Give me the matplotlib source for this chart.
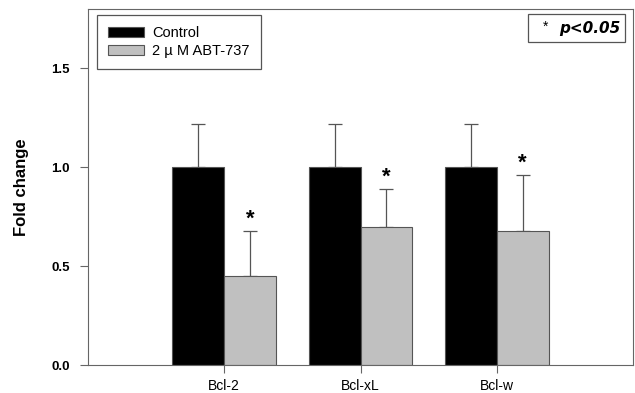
import numpy as np
import matplotlib
matplotlib.use("Agg")
import matplotlib.pyplot as plt
from matplotlib.patches import Rectangle

plt.rcParams["font.family"] = ["Liberation Sans", "DejaVu Sans"]

genes = ["Bcl-2", "Bcl-xL", "Bcl-w"]
control = [1.0, 1.0, 1.0]
control_err = [0.22, 0.22, 0.22]
abt = [0.45, 0.70, 0.68]
abt_err = [0.23, 0.19, 0.28]

x = np.arange(1, len(genes) + 1)
w = 0.38
edge = "#555555"

fig = plt.figure(figsize=(6.35, 3.93), dpi=100)
ax = fig.add_axes([88 / 635, 1 - 365 / 393, (633 - 88) / 635, (365 - 9) / 393])

ax.bar(x - w / 2, control, w, color="black", edgecolor=edge, linewidth=0.8,
       label="Control", zorder=2)
ax.bar(x + w / 2, abt, w, color="#c0c0c0", edgecolor=edge, linewidth=0.8,
       label="2 \u00b5 M ABT-737", zorder=2)

ax.errorbar(x - w / 2, control, yerr=[np.zeros(3), control_err], fmt="none",
            ecolor=edge, elinewidth=0.9, capsize=5, capthick=0.9, zorder=1)
ax.errorbar(x + w / 2, abt, yerr=[np.zeros(3), abt_err], fmt="none",
            ecolor=edge, elinewidth=0.9, capsize=5, capthick=0.9, zorder=1)

# significance stars
for xi, v, e in zip(x + w / 2, abt, abt_err):
    ax.text(xi, v + e + 0.005, "*", ha="center", va="bottom",
            fontsize=16, fontweight="bold")

ax.set_xlim(0, 4)
ax.set_ylim(0, 1.8)
ax.set_xticks(x)
ax.set_xticklabels(genes, fontsize=10)
ax.set_yticks([0, 0.5, 1.0, 1.5])
ax.set_yticklabels(["0.0", "0.5", "1.0", "1.5"], fontsize=9.5, fontweight="bold")
ax.set_ylabel("Fold change", fontsize=12, fontweight="bold", labelpad=16)

for s in ax.spines.values():
    s.set_color("#666666")
ax.tick_params(axis="both", direction="out", length=6, color="#666666", width=0.8)
ax.tick_params(axis="x", pad=4)
ax.tick_params(axis="y", pad=7)

leg = ax.legend(loc="upper left", bbox_to_anchor=(0.0165, 0.983), fontsize=10.5,
                fancybox=False, edgecolor="#555555", framealpha=1,
                borderaxespad=0, handlelength=2.5, handleheight=0.7,
                borderpad=0.75, labelspacing=0.3, handletextpad=0.55)
leg.get_frame().set_linewidth(0.9)

# p-value box
ax.add_patch(Rectangle((0.807, 0.907), 0.178, 0.079, transform=ax.transAxes,
                       fc="white", ec="#555555", lw=0.9, zorder=3))
ax.text(0.84, 0.951, "*", transform=ax.transAxes, ha="center", va="center",
        fontsize=10, zorder=4)
ax.text(0.976, 0.946, "p<0.05", transform=ax.transAxes, ha="right",
        va="center", fontsize=11, fontweight="bold", style="italic",
        family="DejaVu Sans", zorder=4)

fig.savefig("out.png", dpi=100)
